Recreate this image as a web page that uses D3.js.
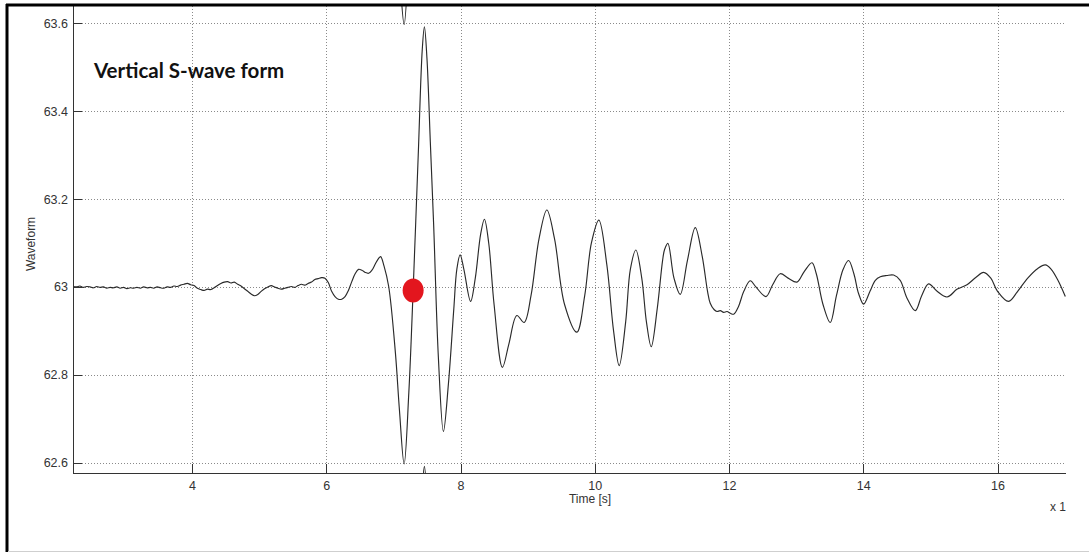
<!DOCTYPE html>
<html>
<head>
<meta charset="utf-8">
<script src="https://cdn.jsdelivr.net/npm/d3@7"></script>
<style>
  html, body { margin: 0; padding: 0; background: #fff; }
  svg { display: block; }
  .tick-label { font-family: "Liberation Sans", Arial, sans-serif; font-size: 12.5px; fill: #333; }
</style>
</head>
<body>
<script>
// Recorded vertical S-wave trace: time [s] and waveform amplitude
const times = [
  2.23, 2.28, 2.33, 2.38, 2.43, 2.48, 2.53, 2.58, 2.63, 2.68,
  2.73, 2.78, 2.83, 2.88, 2.93, 2.98, 3.03, 3.08, 3.13, 3.18,
  3.23, 3.28, 3.33, 3.38, 3.43, 3.48, 3.53, 3.58, 3.63, 3.68,
  3.73, 3.78, 3.83, 3.88, 3.93, 3.98, 4.03, 4.08, 4.13, 4.18,
  4.23, 4.28, 4.33, 4.38, 4.43, 4.48, 4.53, 4.58, 4.63, 4.68,
  4.73, 4.78, 4.83, 4.88, 4.93, 4.98, 5.03, 5.08, 5.13, 5.18,
  5.23, 5.28, 5.33, 5.38, 5.43, 5.48, 5.53, 5.58, 5.63, 5.68,
  5.73, 5.78, 5.83, 5.88, 5.93, 5.98, 6.03, 6.08, 6.13, 6.18,
  6.23, 6.28, 6.33, 6.38, 6.43, 6.48, 6.53, 6.58, 6.63, 6.68,
  6.73, 6.78, 6.81, 6.86, 6.93, 7.03, 7.09, 7.16, 7.23, 7.294,
  7.37, 7.43, 7.462, 7.50, 7.55, 7.60, 7.67, 7.745, 7.82, 7.90,
  7.945, 7.994, 8.05, 8.15, 8.22, 8.30, 8.356, 8.42, 8.50, 8.624,
  8.72, 8.839, 8.948, 9.05, 9.17, 9.286, 9.40, 9.55, 9.733, 9.85,
  9.95, 10.061, 10.18, 10.28, 10.364, 10.46, 10.53, 10.612, 10.70, 10.77,
  10.841, 10.93, 11.01, 11.04, 11.089, 11.18, 11.273, 11.38, 11.497, 11.60,
  11.68, 11.72, 11.78, 11.82, 11.87, 11.92, 11.97, 12.02, 12.07, 12.14,
  12.22, 12.316, 12.40, 12.55, 12.65, 12.763, 12.88, 13.012, 13.12, 13.235,
  13.30, 13.40, 13.508, 13.60, 13.70, 13.781, 13.86, 13.93, 14.005, 14.10,
  14.18, 14.254, 14.35, 14.452, 14.55, 14.65, 14.775, 14.87, 14.973, 15.10,
  15.247, 15.40, 15.545, 15.68, 15.793, 15.90, 16.00, 16.165, 16.30, 16.45,
  16.60, 16.712, 16.80, 16.90, 17.01
];
const waveform = [
  63.001, 63.000, 63.002, 62.999, 63.001, 63.000, 62.998, 63.001, 62.999, 63.000,
  62.997, 62.999, 62.998, 63.000, 62.997, 62.999, 62.996, 62.998, 62.997, 62.999,
  62.997, 63.000, 62.998, 62.999, 62.997, 63.000, 62.998, 62.997, 63.000, 62.999,
  63.002, 63.001, 63.004, 63.006, 63.008, 63.005, 63.003, 62.997, 62.994, 62.992,
  62.995, 62.994, 62.998, 63.003, 63.008, 63.011, 63.012, 63.009, 63.011, 63.006,
  63.002, 62.996, 62.990, 62.984, 62.980, 62.983, 62.990, 62.996, 63.000, 63.003,
  63.000, 62.997, 62.995, 62.997, 62.999, 63.001, 62.999, 63.003, 63.006, 63.004,
  63.008, 63.011, 63.017, 63.019, 63.021, 63.020, 63.010, 62.990, 62.978, 62.972,
  62.972, 62.978, 62.992, 63.012, 63.030, 63.040, 63.038, 63.033, 63.031, 63.038,
  63.052, 63.065, 63.069, 63.048, 63.001, 62.850, 62.720, 62.597, 62.760, 62.992,
  63.300, 63.540, 63.592, 63.520, 63.330, 63.140, 62.840, 62.671, 62.780, 62.950,
  63.040, 63.073, 63.040, 62.967, 63.020, 63.120, 63.154, 63.100, 62.960, 62.817,
  62.870, 62.935, 62.919, 62.980, 63.110, 63.175, 63.110, 62.960, 62.897, 62.980,
  63.100, 63.152, 63.050, 62.900, 62.821, 62.920, 63.040, 63.084, 63.020, 62.920,
  62.864, 62.950, 63.060, 63.085, 63.099, 63.020, 62.983, 63.060, 63.135, 63.070,
  62.990, 62.963, 62.948, 62.944, 62.946, 62.942, 62.944, 62.940, 62.938, 62.955,
  62.990, 63.014, 63.000, 62.978, 63.005, 63.030, 63.020, 63.011, 63.035, 63.055,
  63.030, 62.960, 62.919, 62.980, 63.040, 63.060, 63.030, 62.985, 62.961, 62.990,
  63.015, 63.023, 63.026, 63.027, 63.015, 62.975, 62.946, 62.980, 63.007, 62.990,
  62.977, 62.995, 63.005, 63.022, 63.033, 63.020, 62.990, 62.967, 62.990, 63.020,
  63.042, 63.050, 63.040, 63.015, 62.978
];

// Axis ticks and labels
const xTicks = [4, 6, 8, 10, 12, 14, 16];
const yTicks = [62.6, 62.8, 63.0, 63.2, 63.4, 63.6];
const yTickLabels = ["62.6", "62.8", "63", "63.2", "63.4", "63.6"];

// Picked S-wave arrival
const arrivalTime = [7.294];
const arrivalValue = [62.992];

// The recorder wraps amplitudes modulo one unit, so neighbouring copies show at the clipped edges
const wrapOffsets = [-1, 0, 1];

const title = "Vertical S-wave form";

const W = 1089, H = 552;
const plot = { left: 73, right: 1066, top: 6, bottom: 473 };

const svg = d3.select("body").append("svg")
  .attr("width", W).attr("height", H);

svg.append("rect").attr("width", W).attr("height", H).attr("fill", "#fff");

const x = d3.scaleLinear().domain([2.227, 17.02]).range([plot.left, plot.right]);
const y = d3.scaleLinear().domain([62.5766, 63.6392]).range([plot.bottom, plot.top]);

svg.append("defs").append("clipPath").attr("id", "plot-clip")
  .append("rect")
  .attr("x", plot.left).attr("y", plot.top)
  .attr("width", plot.right - plot.left).attr("height", plot.bottom - plot.top);

// Dotted grid
const grid = svg.append("g").attr("stroke", "#8a8a8a").attr("stroke-width", 1)
  .attr("stroke-dasharray", "1,2").attr("shape-rendering", "crispEdges");
grid.selectAll("line.gx").data(xTicks).join("line").attr("class", "gx")
  .attr("x1", d => Math.round(x(d)) + 0.5).attr("x2", d => Math.round(x(d)) + 0.5)
  .attr("y1", plot.top).attr("y2", plot.bottom);
grid.selectAll("line.gy").data(yTicks).join("line").attr("class", "gy")
  .attr("y1", d => Math.round(y(d)) + 0.5).attr("y2", d => Math.round(y(d)) + 0.5)
  .attr("x1", plot.left).attr("x2", plot.right);

// Waveform trace
const series = times.map((t, i) => ({ t, v: waveform[i] }));
const traceG = svg.append("g").attr("clip-path", "url(#plot-clip)");
wrapOffsets.forEach(off => {
  const line = d3.line()
    .x(d => x(d.t))
    .y(d => y(d.v + off))
    .curve(d3.curveCatmullRom.alpha(0.5));
  traceG.append("path")
    .datum(series)
    .attr("fill", "none")
    .attr("stroke", "#2a2a2a")
    .attr("stroke-width", 1.15)
    .attr("stroke-linejoin", "round")
    .attr("d", line);
});

// Axes (MATLAB style: ticks pointing inward)
const xAxis = d3.axisBottom(x).tickValues(xTicks).tickSize(-9).tickPadding(14)
  .tickFormat(d3.format("d"));
const gx = svg.append("g").attr("transform", `translate(0,${plot.bottom})`).call(xAxis);
const yAxis = d3.axisLeft(y).tickValues(yTicks).tickSize(-9).tickPadding(14)
  .tickFormat((d, i) => yTickLabels[i]);
const gy = svg.append("g").attr("transform", `translate(${plot.left},0)`).call(yAxis);

[gx, gy].forEach(g => {
  g.select(".domain").remove();
  g.selectAll(".tick line").attr("stroke", "#333").attr("shape-rendering", "crispEdges");
  g.selectAll(".tick text").attr("class", "tick-label").attr("fill", "#333");
});
gx.selectAll(".tick text").attr("dy", "0.71em").attr("y", 8);
gy.selectAll(".tick text").attr("x", -5);

svg.append("line")
  .attr("x1", plot.left + 0.5).attr("x2", plot.left + 0.5)
  .attr("y1", plot.top).attr("y2", plot.bottom + 0.5)
  .attr("stroke", "#333").attr("shape-rendering", "crispEdges");
svg.append("line")
  .attr("x1", plot.left).attr("x2", plot.right)
  .attr("y1", plot.bottom + 0.5).attr("y2", plot.bottom + 0.5)
  .attr("stroke", "#333").attr("shape-rendering", "crispEdges");

// Axis titles
svg.append("text").attr("class", "tick-label")
  .attr("x", 590).attr("y", 503).attr("text-anchor", "middle")
  .style("font-size", "12px").text("Time [s]");
svg.append("text").attr("class", "tick-label")
  .attr("transform", "translate(35,244) rotate(-90)")
  .attr("text-anchor", "middle").style("font-size", "12px").text("Waveform");
svg.append("text").attr("class", "tick-label")
  .attr("x", 1066).attr("y", 511).attr("text-anchor", "end")
  .style("font-size", "12px").text("x 1");

// Chart title
svg.append("text")
  .attr("x", 94).attr("y", 78)
  .attr("font-family", "Lato, 'Open Sans', sans-serif")
  .attr("font-weight", "bold").attr("font-size", 20.5)
  .attr("fill", "#111").text(title);

// Arrival marker
svg.selectAll("ellipse.arrival").data(arrivalTime).join("ellipse")
  .attr("class", "arrival")
  .attr("cx", (d) => x(d)).attr("cy", (d, i) => y(arrivalValue[i]))
  .attr("rx", 10.5).attr("ry", 12)
  .attr("fill", "#e3161e");

// Frame
svg.append("line").attr("x1", 6).attr("x2", W).attr("y1", 5).attr("y2", 5)
  .attr("stroke", "#000").attr("stroke-width", 3);
svg.append("line").attr("x1", 7).attr("x2", 7).attr("y1", 4).attr("y2", H)
  .attr("stroke", "#000").attr("stroke-width", 3);
svg.append("line").attr("x1", 8).attr("x2", W).attr("y1", 551.5).attr("y2", 551.5)
  .attr("stroke", "#cfcfcf").attr("stroke-width", 1);
</script>
</body>
</html>
